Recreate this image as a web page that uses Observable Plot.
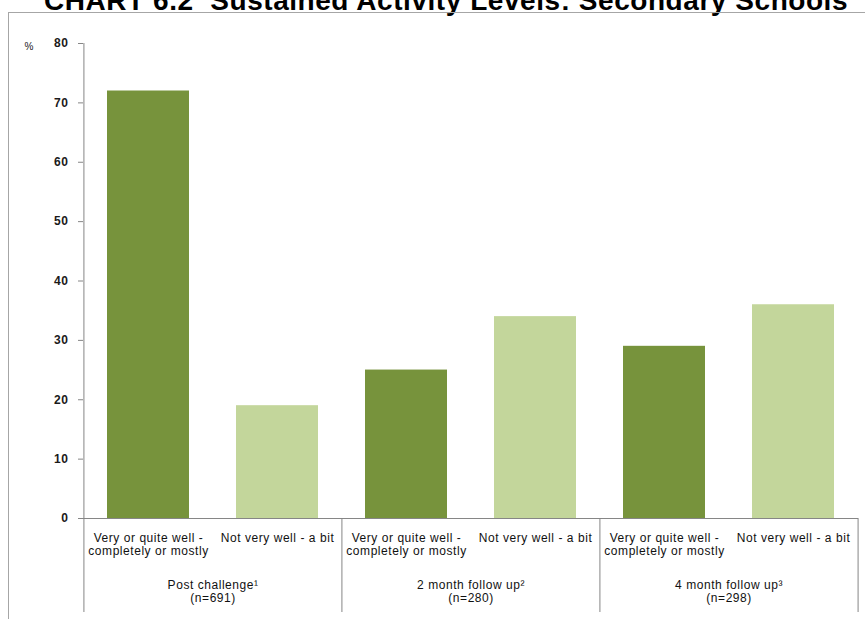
<!DOCTYPE html>
<html>
<head>
<meta charset="utf-8">
<script src="https://cdn.jsdelivr.net/npm/d3@7"></script>
<script src="https://cdn.jsdelivr.net/npm/@observablehq/plot@0.6"></script>
<style>
  body { margin: 0; background: #fff; }
  #wrap { position: relative; width: 865px; height: 619px; overflow: hidden; }
  #border { position: absolute; left: 8px; top: 12px; right: -2px; bottom: -2px;
            border-left: 1px solid #a6a6a6; border-top: 1px solid #a6a6a6; pointer-events: none; }
</style>
</head>
<body>
<div id="wrap"><div id="border"></div></div>
<script>
// Survey waves (outer grouping) and responses (bars within each wave)
const groups = ["Post challenge¹\n(n=691)", "2 month follow up²\n(n=280)", "4 month follow up³\n(n=298)"];
const responses = ["Very or quite well -\ncompletely or mostly", "Not very well - a bit"];
// Percentages, one row per wave, in the order of `responses`
const postChallenge = [72, 19];
const twoMonth = [25, 34];
const fourMonth = [29, 36];
const yTicks = [0, 10, 20, 30, 40, 50, 60, 70, 80];
const title = "CHART 6.2  Sustained Activity Levels: Secondary Schools";
const colors = ["#77933c", "#c3d69b"];

const series = [postChallenge, twoMonth, fourMonth];
const rows = groups.flatMap((g, gi) =>
  responses.map((r, ri) => ({key: `${gi}-${ri}`, group: g, response: r, value: series[gi][ri], first: ri === 0}))
);
const keys = rows.map(d => d.key);

const W = 865, H = 619, mL = 83, mR = 7, mT = 43, mB = 101;
const step = (W - mL - mR) / keys.length;   // width of one category slot
const labelDepth = 94;                      // how far the group dividers reach below the baseline
const axisGrey = "#868686";

const chart = Plot.plot({
  width: W,
  height: H,
  marginLeft: mL,
  marginRight: mR,
  marginTop: mT,
  marginBottom: mB,
  style: {fontFamily: "'Liberation Sans', Arial, sans-serif", color: "#1a1a1a", letterSpacing: "0.55px", background: "#fff"},
  x: {domain: keys, paddingInner: 0.365, paddingOuter: 0.1825, axis: null},
  y: {domain: [0, 80], axis: null},
  color: {domain: responses, range: colors},
  marks: [
    Plot.barY(rows, {x: "key", y: "value", fill: "response"}),
    // y axis ticks and labels
    Plot.axisY({ticks: yTicks, tickSize: 5, tickPadding: 10, stroke: axisGrey, fill: "#1a1a1a", label: null,
                fontWeight: "bold", fontSize: 12, tickFormat: d => d}),
    // y axis line
    Plot.ruleX([keys[0]], {x: d => d, dx: -step / 2, y1: () => 80, y2: () => 0, stroke: axisGrey}),
    // baseline
    Plot.ruleY([0], {stroke: axisGrey}),
    // group dividers below the baseline
    Plot.ruleX(rows.filter(d => d.first), {x: "key", dx: -step / 2, y1: () => 0, y2: () => 0,
               insetBottom: -labelDepth, stroke: axisGrey}),
    Plot.ruleX([keys[keys.length - 1]], {x: d => d, dx: step / 2, y1: () => 0, y2: () => 0,
               insetBottom: -labelDepth, stroke: axisGrey}),
    // response labels
    Plot.text(rows, {x: "key", text: "response", frameAnchor: "bottom", lineAnchor: "top",
                     dy: 14, fontSize: 12, lineHeight: 1.1, fill: "#111"}),
    // wave labels, centred on each pair of bars
    Plot.text(rows.filter(d => d.first), {x: "key", text: "group", dx: step / 2, frameAnchor: "bottom",
                     lineAnchor: "top", dy: 61, fontSize: 12, lineHeight: 1.1, fill: "#111"}),
    // unit label
    Plot.text(["%"], {text: d => d, frameAnchor: "top-left", dx: -59, dy: -1, fontSize: 10}),
    // title
    Plot.text([title], {text: d => d, frameAnchor: "top", dx: -25, dy: -34, lineAnchor: "bottom",
                        fontSize: 28, fontWeight: "bold", fill: "#000"})
  ]
});

document.getElementById("wrap").prepend(chart);
</script>
</body>
</html>
